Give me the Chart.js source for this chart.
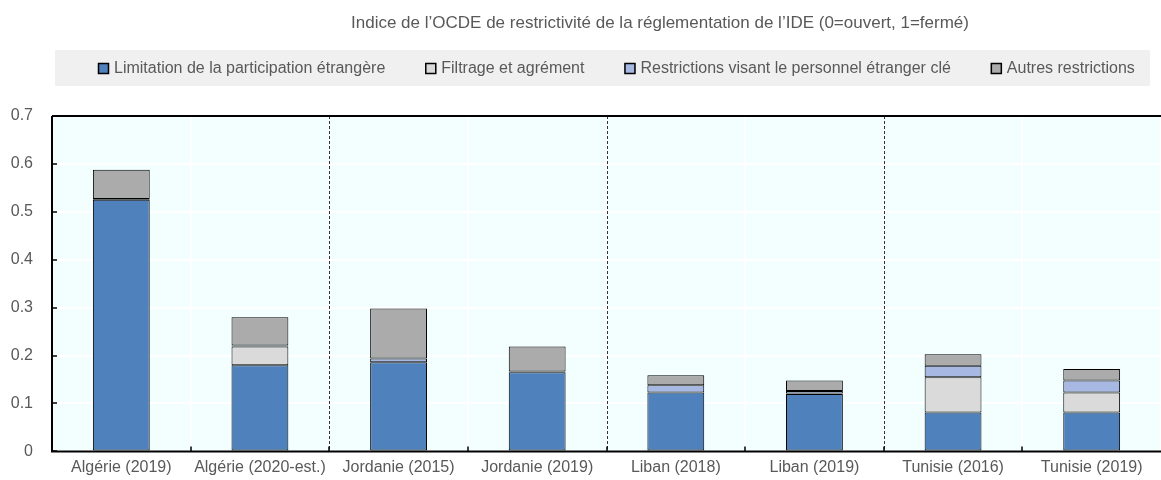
<!DOCTYPE html>
<html>
<head>
<meta charset="utf-8">
<script src="https://cdn.jsdelivr.net/npm/chart.js@4"></script>
<style>
  html, body { margin: 0; padding: 0; background: #fff; }
  #wrap { width: 1161px; height: 480px; }
</style>
</head>
<body>
<div id="wrap"><canvas id="grafico-IDE"></canvas></div>
<script>
const categories = ["Algérie (2019)", "Algérie (2020-est.)", "Jordanie (2015)", "Jordanie (2019)", "Liban (2018)", "Liban (2019)", "Tunisie (2016)", "Tunisie (2019)"];
const limitation = [0.525, 0.180, 0.186, 0.165, 0.123, 0.120, 0.081, 0.081];
const filtrage = [0.002, 0.039, 0.000, 0.002, 0.000, 0.001, 0.074, 0.042];
const personnel = [0.000, 0.002, 0.008, 0.000, 0.015, 0.005, 0.024, 0.025];
const autres = [0.061, 0.059, 0.104, 0.052, 0.021, 0.022, 0.024, 0.024];
const yTicks = [0, 0.1, 0.2, 0.3, 0.4, 0.5, 0.6, 0.7];
const separateurs = [1, 3, 5]; // lignes pointillées entre pays

const titre = "Indice de l’OCDE de restrictivité de la réglementation de l’IDE (0=ouvert, 1=fermé)";
const gris = "#595959";
const police = "'Liberation Sans', Arial, sans-serif";

// Titre, légende, fond, séparateurs et axes
const decor = {
  id: "decor",
  beforeDraw(chart) {
    const { ctx, chartArea: a } = chart;
    ctx.save();
    ctx.fillStyle = "#F3FFFF";
    ctx.fillRect(a.left, a.top, a.right - a.left, a.bottom - a.top);

    // titre
    ctx.fillStyle = gris;
    ctx.font = "17px " + police;
    ctx.textAlign = "center";
    ctx.textBaseline = "middle";
    ctx.fillText(titre, 660, 23);

    // bande de légende
    ctx.fillStyle = "#F0F0F0";
    ctx.fillRect(55, 50, 1095, 36);
    ctx.font = "16px " + police;
    ctx.textAlign = "left";
    const ds = chart.data.datasets;
    const gap = 40;
    let x = 98;
    ds.forEach(d => {
      ctx.fillStyle = d.backgroundColor;
      ctx.fillRect(x, 63, 11, 11);
      ctx.strokeStyle = "#000";
      ctx.lineWidth = 1.5;
      ctx.strokeRect(x + 0.5, 63.5, 10, 10);
      ctx.fillStyle = gris;
      ctx.fillText(d.label, x + 16, 69);
      x += 16 + ctx.measureText(d.label).width + gap;
    });
    ctx.restore();
  },
  beforeDatasetsDraw(chart) {
    const { ctx, chartArea: a, scales: { x } } = chart;
    const pas = (a.right - a.left) / categories.length;
    ctx.save();
    ctx.strokeStyle = "#333";
    ctx.lineWidth = 1;
    ctx.setLineDash([3, 2]);
    separateurs.forEach(i => {
      const px = Math.round(x.getPixelForValue(i) + pas / 2) + 0.5;
      ctx.beginPath();
      ctx.moveTo(px, a.top);
      ctx.lineTo(px, a.bottom);
      ctx.stroke();
    });
    ctx.restore();
  },
  afterDraw(chart) {
    const { ctx, chartArea: a, scales: { x, y } } = chart;
    const pas = (a.right - a.left) / categories.length;
    ctx.save();
    ctx.strokeStyle = "#000";
    ctx.lineWidth = 2;
    ctx.beginPath();
    ctx.moveTo(a.left, a.top);
    ctx.lineTo(a.right, a.top);
    ctx.moveTo(a.left, a.top);
    ctx.lineTo(a.left, a.bottom);
    ctx.lineTo(a.right, a.bottom);
    ctx.stroke();
    ctx.lineWidth = 1.5;
    ctx.beginPath();
    yTicks.forEach(v => {
      const py = Math.round(y.getPixelForValue(v));
      ctx.moveTo(a.left, py);
      ctx.lineTo(a.left + 5, py);
    });
    for (let i = 0; i < categories.length - 1; i++) {
      const px = Math.round(x.getPixelForValue(i) + pas / 2);
      ctx.moveTo(px, a.bottom);
      ctx.lineTo(px, a.bottom - 5);
    }
    ctx.stroke();
    ctx.restore();
  }
};

function grafico() {
  const llamar = document.getElementById("grafico-IDE");
  const serie = (label, data, color) => ({
    label: label,
    data: data,
    backgroundColor: color,
    borderColor: "#000",
    borderWidth: 1,
    borderSkipped: false,
    barPercentage: 0.41,
    categoryPercentage: 1
  });
  new Chart(llamar.getContext("2d"), {
    type: "bar",
    data: {
      labels: categories,
      datasets: [
        serie("Limitation de la participation étrangère", limitation, "#4F81BD"),
        serie("Filtrage et agrément", filtrage, "#DADADA"),
        serie("Restrictions visant le personnel étranger clé", personnel, "#A7B9E3"),
        serie("Autres restrictions", autres, "#ABABAB")
      ]
    },
    options: {
      responsive: true,
      maintainAspectRatio: false,
      animation: false,
      layout: { padding: { top: 116, right: -7, left: 0, bottom: 0 } },
      plugins: {
        legend: { display: false },
        tooltip: { enabled: false }
      },
      scales: {
        x: {
          stacked: true,
          afterFit(s) { s.height = 26; },
          grid: { offset: true, color: "#FFFFFF", lineWidth: 2, drawTicks: false },
          border: { display: false },
          ticks: { color: gris, font: { size: 16, family: police }, padding: 7, maxRotation: 0 }
        },
        y: {
          stacked: true,
          min: 0,
          max: 0.7,
          afterFit(s) { s.width = 52; },
          afterBuildTicks(s) { s.ticks = yTicks.map(v => ({ value: v })); },
          grid: { color: "#FFFFFF", lineWidth: 2, drawTicks: false },
          border: { display: false },
          ticks: { color: gris, font: { size: 16, family: police }, padding: 19 }
        }
      }
    },
    plugins: [decor]
  });
}
grafico();
</script>
</body>
</html>
